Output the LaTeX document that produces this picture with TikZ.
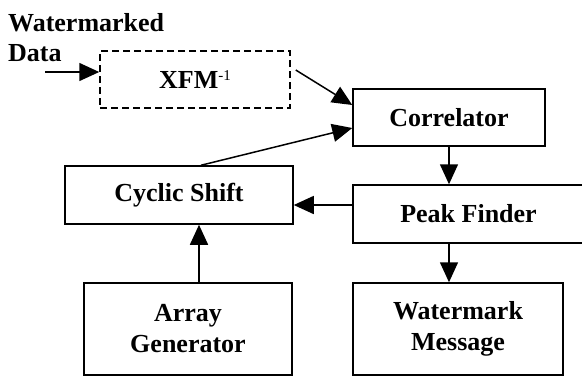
\documentclass[tikz,border=0pt]{standalone}
\usepackage{fontspec}
\setmainfont{Liberation Serif}
\usetikzlibrary{arrows.meta}
\begin{document}
\begin{tikzpicture}[x=1pt,y=-1pt,
  every node/.style={font=\fontsize{26}{31}\selectfont\bfseries},
  blk/.style={draw,line width=1.5pt,rectangle,inner sep=0pt,align=center},
  dblk/.style={blk,dash pattern=on 7pt off 4pt},
  flow/.style={line width=1.5pt,-{Triangle[length=20pt,width=18pt]}},
  lbl/.style={inner sep=0pt,anchor=base west}]
\useasboundingbox (0,0) rectangle (582,376);

% blocks
\node[dblk,minimum width=190pt,minimum height=57pt] (xfm) at (195,79.5)
  {XFM\raisebox{7.5pt}{\fontsize{15}{15}\selectfont\mdseries -1}};
\node[blk,minimum width=192pt,minimum height=57pt] (corr) at (449,117.5) {Correlator};
\node[blk,minimum width=231pt,minimum height=58pt] (peak) at (468.5,214) {Peak Finder};
\node[blk,minimum width=228pt,minimum height=58pt] (cyc) at (179,195) {Cyclic Shift};
\node[blk,minimum width=208pt,minimum height=92pt] (gen) at (188,329) {Array\\Generator};
\node[blk,minimum width=210pt,minimum height=92pt] (msg) at (458,329) {Watermark\\Message};

% input label
\node[lbl] (lw) at (8,31) {Watermarked};
\node[lbl] (ld) at (8,61) {Data};
\coordinate (din) at (45,72);

% connectors
\draw[flow] (din) -- (din -| xfm.west);
\draw[flow] ([xshift=5pt,yshift=9.5pt]xfm.east) -- ([yshift=12.5pt]corr.west);
\draw[flow] ([xshift=22pt]cyc.north) -- ([yshift=-10.5pt]corr.west);
\draw[flow] (corr.south) -- (corr.south |- peak.north);
\draw[flow] ([yshift=9pt]peak.west) -- ([yshift=9pt]peak.west -| cyc.east);
\draw[flow] ([xshift=11pt]gen.north) -- ([xshift=11pt]gen.north |- cyc.south);
\draw[flow] (corr.south |- peak.south) -- (corr.south |- msg.north);
\end{tikzpicture}
\end{document}
